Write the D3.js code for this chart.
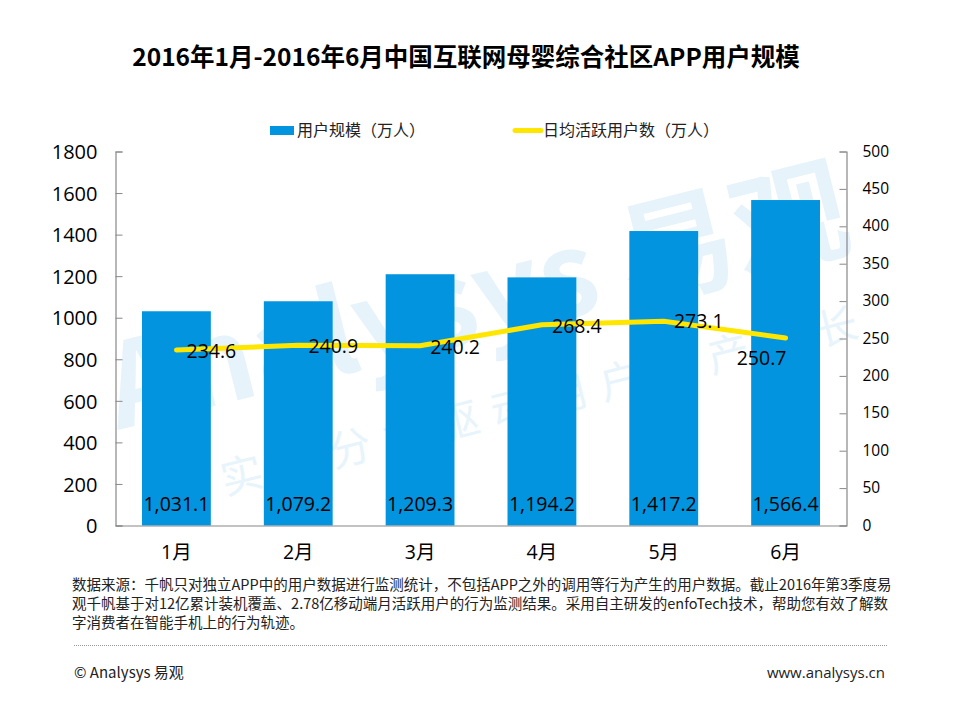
<!DOCTYPE html>
<html><head><meta charset="utf-8">
<script src="https://cdnjs.cloudflare.com/ajax/libs/d3/7.8.5/d3.min.js"></script>
<style>
html,body{margin:0;padding:0;background:#fff}
svg{display:block}
text{font-family:"Open Sans","Noto Sans CJK SC",sans-serif;fill:#000}
.cjk,.cjk text{font-family:"Noto Sans CJK SC",sans-serif}
</style></head><body>
<svg id="c" width="960" height="720"></svg>
<script>
const months = ["1月","2月","3月","4月","5月","6月"];
const users = [1031.1,1079.2,1209.3,1194.2,1417.2,1566.4];
const daily = [234.6,240.9,240.2,268.4,273.1,250.7];
const userLabels = ["1,031.1","1,079.2","1,209.3","1,194.2","1,417.2","1,566.4"];
const leftTicks = [0,200,400,600,800,1000,1200,1400,1600,1800];
const rightTicks = [0,50,100,150,200,250,300,350,400,450,500];
const title = "2016年1月-2016年6月中国互联网母婴综合社区APP用户规模";
const legendNames = ["用户规模（万人）","日均活跃用户数（万人）"];
const noteLines = [
 "数据来源：千帆只对独立APP中的用户数据进行监测统计，不包括APP之外的调用等行为产生的用户数据。截止2016年第3季度易",
 "观千帆基于对12亿累计装机覆盖、2.78亿移动端月活跃用户的行为监测结果。采用自主研发的enfoTech技术，帮助您有效了解数",
 "字消费者在智能手机上的行为轨迹。"];
const dailyLabelOffsets = [[35,1],[35,1],[35,1],[35,1],[35,0],[-24,20]];

const svg = d3.select("#c");
const m = {l:115.5,r:846.5,t:151.5,b:525.5};
const x = d3.scaleBand().domain(months).range([m.l,m.r]).paddingInner(0.435).paddingOuter(0.2175);
const yL = d3.scaleLinear().domain([0,1800]).range([m.b,m.t]);
const yR = d3.scaleLinear().domain([0,500]).range([m.b,m.t]);
const cx = d => x(d)+x.bandwidth()/2;

// watermark
const wm = svg.append("g").attr("class","cjk");
wm.append("text").attr("transform","translate(118,430) rotate(-14)")
  .attr("font-size",116).attr("font-weight",700).style("fill","#e6f3fb").text("Analysys 易观");
wm.append("text").attr("transform","translate(225,495) rotate(-14)")
  .attr("font-size",42).style("fill","#e8f4fb").attr("textLength",655).text("实时分析驱动用户资产增长");

// title
svg.append("text").attr("class","cjk").attr("x",466).attr("y",66).attr("text-anchor","middle")
  .attr("font-size",24.5).attr("font-weight",700).text(title);

// bars
svg.append("g").selectAll("rect").data(users).join("rect")
  .attr("x",(d,i)=>x(months[i])).attr("width",x.bandwidth())
  .attr("y",d=>yL(d)).attr("height",d=>m.b-yL(d)).attr("fill","#0394df");

// axes
const axisStyle = g => { g.selectAll("path,line").attr("stroke","#888"); g.select(".domain").attr("stroke-width",1.2); g.selectAll("text").style("fill","#000"); };
svg.append("g").attr("transform",`translate(${m.l},0)`)
  .call(d3.axisLeft(yL).tickValues(leftTicks).tickSize(-7).tickSizeOuter(-7).tickPadding(18).tickFormat(d3.format("d")))
  .call(axisStyle).call(g=>g.selectAll("text").attr("font-size",20).style("font-family",'"Open Sans"').attr("dy","0.36em"));
svg.append("g").attr("transform",`translate(${m.r},0)`)
  .call(d3.axisRight(yR).tickValues(rightTicks).tickSize(-7).tickSizeOuter(-7).tickPadding(16).tickFormat(d3.format("d")))
  .call(axisStyle).call(g=>g.selectAll("text").attr("font-size",15.5).style("font-family",'"Open Sans"').attr("dy","0.3em"));
svg.append("g").attr("transform",`translate(0,${m.b})`)
  .call(d3.axisBottom(x).tickSize(0).tickPadding(20))
  .call(axisStyle).call(g=>g.selectAll("text").attr("font-size",19.5).style("font-family",'"Open Sans","Noto Sans CJK SC"'));

// line
const line = d3.line().x((d,i)=>cx(months[i])).y(d=>yR(d));
svg.append("path").datum(daily).attr("d",line).attr("fill","none")
  .attr("stroke","#ffe600").attr("stroke-width",5).attr("stroke-linecap","round").attr("stroke-linejoin","round");

// labels
svg.append("g").selectAll("text").data(userLabels).join("text")
  .attr("x",(d,i)=>cx(months[i])).attr("y",510.5).attr("text-anchor","middle")
  .attr("font-size",19.5).text(d=>d);
svg.append("g").selectAll("text").data(daily).join("text")
  .attr("x",(d,i)=>cx(months[i])+dailyLabelOffsets[i][0])
  .attr("y",(d,i)=>yR(d)+dailyLabelOffsets[i][1]).attr("dy","0.36em").attr("text-anchor","middle")
  .attr("font-size",19.5).text(d=>d3.format(".1f")(d));

// legend
svg.append("rect").attr("x",270).attr("y",126).attr("width",24).attr("height",9).attr("fill","#0394df");
svg.append("text").attr("class","cjk").attr("x",297).attr("y",135.5).attr("font-size",16).style("fill","#222").text(legendNames[0]);
svg.append("line").attr("x1",515).attr("x2",541).attr("y1",130.5).attr("y2",130.5)
  .attr("stroke","#ffe600").attr("stroke-width",5).attr("stroke-linecap","round");
svg.append("text").attr("class","cjk").attr("x",543).attr("y",135.5).attr("font-size",16).style("fill","#222").text(legendNames[1]);

// notes
svg.append("g").attr("class","cjk").selectAll("text").data(noteLines).join("text")
  .attr("x",72).attr("y",(d,i)=>589.5+i*19).attr("font-size",14.5).style("fill","#222").text(d=>d);
svg.append("line").attr("x1",74).attr("x2",888).attr("y1",645.5).attr("y2",645.5)
  .attr("stroke","#999").attr("stroke-dasharray","1 1");
svg.append("text").attr("class","cjk").attr("x",74).attr("y",678).attr("font-size",15).style("fill","#222").text("© Analysys 易观");
svg.append("text").attr("x",885).attr("y",678).attr("text-anchor","end").attr("font-size",15).style("fill","#222").text("www.analysys.cn");
</script>
</body></html>
